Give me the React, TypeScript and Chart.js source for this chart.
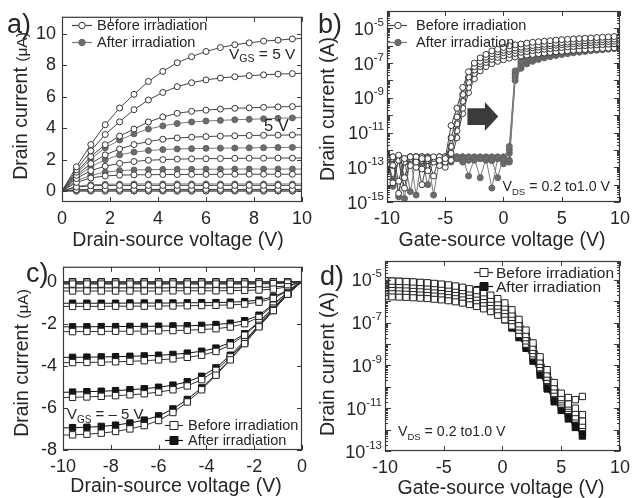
import React, { useEffect, useRef } from 'react';
import { Chart, registerables } from 'chart.js';
Chart.register(...registerables);

const FONT = '"Liberation Sans", Arial, Helvetica, sans-serif';
const INK = '#262626';
const FRAME = '#3a3a3a';

// ---------------- Panel a : output curves (before / after) ----------------
const aVds = [0, 0.6, 1.2, 1.8, 2.4, 3.0, 3.6, 4.2, 4.8, 5.4, 6.0, 6.6, 7.2, 7.8, 8.4, 9.0, 9.6, 10];
const aNoMarkerX = [0, 10];
const aBefore1 = [0, 1.54, 2.96, 4.22, 5.29, 6.16, 6.98, 7.62, 8.17, 8.56, 8.89, 9.14, 9.32, 9.44, 9.55, 9.61, 9.69, 9.72];
const aBefore2 = [0, 1.35, 2.56, 3.6, 4.41, 5.18, 5.8, 6.28, 6.65, 6.9, 7.08, 7.2, 7.28, 7.35, 7.4, 7.45, 7.48, 7.5];
const aBefore3 = [0, 1.2, 2.2, 2.95, 3.5, 3.95, 4.4, 4.72, 4.95, 5.08, 5.15, 5.22, 5.27, 5.3, 5.33, 5.36, 5.38, 5.4];
const aBefore4 = [0, 1.0, 1.75, 2.3, 2.68, 2.96, 3.15, 3.3, 3.38, 3.43, 3.47, 3.5, 3.52, 3.54, 3.55, 3.56, 3.57, 3.58];
const aBefore5 = [0, 0.8, 1.3, 1.58, 1.76, 1.88, 1.96, 2.0, 2.03, 2.05, 2.06, 2.07, 2.08, 2.09, 2.09, 2.1, 2.1, 2.1];
const aBefore6 = [0, 0.55, 0.83, 0.96, 1.01, 1.03, 1.04, 1.05, 1.05, 1.06, 1.06, 1.06, 1.07, 1.07, 1.07, 1.07, 1.07, 1.07];
const aBefore7 = [0, 0.25, 0.33, 0.35, 0.36, 0.36, 0.36, 0.36, 0.36, 0.36, 0.36, 0.36, 0.36, 0.36, 0.36, 0.36, 0.36, 0.36];
const aBefore8 = [0, 0.08, 0.1, 0.1, 0.1, 0.1, 0.1, 0.1, 0.1, 0.1, 0.1, 0.1, 0.1, 0.1, 0.1, 0.1, 0.1, 0.1];
const aBefore9 = [0, 0, 0, 0, 0, 0, 0, 0, 0, 0, 0, 0, 0, 0, 0, 0, 0, 0];
const aAfter1 = [0, 1.1, 2.05, 2.75, 3.25, 3.64, 3.95, 4.15, 4.3, 4.4, 4.46, 4.5, 4.54, 4.57, 4.6, 4.63, 4.66, 4.68];
const aAfter2 = [0, 0.9, 1.55, 2.0, 2.3, 2.48, 2.58, 2.64, 2.68, 2.7, 2.72, 2.73, 2.74, 2.75, 2.76, 2.77, 2.78, 2.78];
const aAfter3 = [0, 0.65, 1.0, 1.2, 1.3, 1.34, 1.36, 1.37, 1.38, 1.38, 1.39, 1.39, 1.4, 1.4, 1.4, 1.4, 1.4, 1.4];
const aAfter4 = [0, 0.3, 0.4, 0.43, 0.44, 0.45, 0.45, 0.45, 0.45, 0.45, 0.45, 0.45, 0.45, 0.45, 0.45, 0.45, 0.45, 0.45];
const aAfter5 = [0, 0.07, 0.09, 0.1, 0.1, 0.1, 0.1, 0.1, 0.1, 0.1, 0.1, 0.1, 0.1, 0.1, 0.1, 0.1, 0.1, 0.1];
const aAfter6 = [0, 0, 0, 0, 0, 0, 0, 0, 0, 0, 0, 0, 0, 0, 0, 0, 0, 0];
const aXTicks = [0, 2, 4, 6, 8, 10];
const aYTicks = [0, 2, 4, 6, 8, 10];

// ---------------- Panel b : transfer curves, log10 of drain current (A) ----------------
const bVgs = [-10, -9.5, -9, -8.5, -8, -7.5, -7, -6.5, -6, -5.5, -5, -4.5, -4, -3.5, -3, -2.5, -2, -1.5, -1, -0.5, 0,
  0.5, 1, 1.5, 2, 2.5, 3, 3.5, 4, 4.5, 5, 5.5, 6, 6.5, 7, 7.5, 8, 8.5, 9, 9.5, 10];
const bBefore1Exp = [-12.5, -12.9, -12.3, -13.6, -12.4, -12.7, -12.5, -13.2, -12.4, -12.6, -12.5, -10.6, -9.6, -8.4, -7.5, -7.0, -6.7, -6.5, -6.3, -6.2, -6.1,
  -6.0, -5.95, -5.9, -5.85, -5.8, -5.77, -5.74, -5.71, -5.68, -5.65, -5.63, -5.61, -5.59, -5.57, -5.55, -5.53, -5.51, -5.49, -5.47, -5.45];
const bBefore2Exp = [-12.6, -12.4, -13.8, -12.5, -12.9, -12.4, -12.6, -12.5, -13.5, -12.4, -12.7, -11.3, -10.1, -8.8, -7.8, -7.2, -6.9, -6.66, -6.46, -6.35, -6.26,
  -6.19, -6.13, -6.08, -6.03, -5.99, -5.95, -5.91, -5.88, -5.85, -5.82, -5.79, -5.76, -5.74, -5.71, -5.69, -5.67, -5.65, -5.63, -5.61, -5.59];
const bBefore3Exp = [-12.8, -12.5, -12.6, -14.2, -12.5, -12.4, -13.1, -12.6, -12.5, -12.9, -12.4, -11.8, -10.5, -9.2, -8.1, -7.4, -7.05, -6.8, -6.62, -6.5, -6.4,
  -6.33, -6.27, -6.21, -6.16, -6.12, -6.08, -6.04, -6.0, -5.97, -5.94, -5.91, -5.88, -5.86, -5.84, -5.82, -5.8, -5.78, -5.76, -5.74, -5.72];
const bBefore4Exp = [-12.5, -13.9, -12.5, -12.7, -12.4, -13.0, -12.4, -12.6, -12.7, -12.5, -13.0, -12.2, -10.9, -9.6, -8.4, -7.6, -7.2, -6.96, -6.79, -6.67, -6.58,
  -6.5, -6.44, -6.38, -6.33, -6.28, -6.24, -6.2, -6.16, -6.13, -6.1, -6.07, -6.04, -6.01, -5.99, -5.97, -5.95, -5.93, -5.91, -5.89, -5.87];
const bBefore5Exp = [-13.2, -12.5, -14.5, -12.6, -12.7, -12.4, -14.0, -12.5, -12.6, -12.4, -12.7, -12.6, -11.3, -9.9, -8.7, -7.9, -7.45, -7.2, -7.03, -6.9, -6.8,
  -6.72, -6.65, -6.59, -6.54, -6.5, -6.46, -6.42, -6.38, -6.35, -6.32, -6.29, -6.26, -6.24, -6.22, -6.2, -6.18, -6.16, -6.14, -6.12, -6.1];
const bAfter1Exp = [-12.4, -14.1, -12.5, -14.8, -12.4, -12.6, -12.4, -12.5, -14.6, -12.5, -12.4, -12.6, -12.5, -12.7, -12.4, -12.5, -13.6, -12.5, -12.6, -12.4, -12.5,
  -11.8, -7.45, -6.9, -6.65, -6.5, -6.4, -6.32, -6.25, -6.19, -6.14, -6.09, -6.04, -6.0, -5.96, -5.92, -5.89, -5.86, -5.83, -5.8, -5.77];
const bAfter2Exp = [-12.5, -12.4, -14.7, -12.5, -12.6, -12.4, -12.5, -14.0, -12.5, -12.4, -12.5, -12.7, -12.4, -12.5, -12.6, -12.4, -12.5, -12.6, -12.4, -12.5, -12.6,
  -12.0, -7.6, -7.0, -6.75, -6.6, -6.49, -6.41, -6.34, -6.28, -6.23, -6.18, -6.13, -6.09, -6.05, -6.01, -5.98, -5.95, -5.92, -5.89, -5.86];
const bAfter3Exp = [-12.7, -12.5, -12.4, -12.6, -14.4, -12.5, -12.6, -12.4, -12.5, -12.7, -12.6, -12.4, -12.5, -12.4, -13.5, -12.5, -12.4, -12.5, -12.6, -13.6, -12.4,
  -12.2, -7.7, -7.1, -6.85, -6.7, -6.59, -6.5, -6.43, -6.37, -6.31, -6.26, -6.21, -6.17, -6.13, -6.09, -6.06, -6.03, -6.0, -5.97, -5.94];
const bAfter4Exp = [-12.4, -13.7, -12.6, -12.5, -12.4, -14.6, -12.4, -12.5, -12.6, -12.5, -12.4, -12.5, -12.4, -12.6, -12.5, -12.5, -12.5, -12.4, -12.6, -12.5, -12.5,
  -12.6, -7.85, -7.2, -6.95, -6.8, -6.69, -6.6, -6.53, -6.47, -6.41, -6.36, -6.31, -6.27, -6.23, -6.19, -6.16, -6.13, -6.1, -6.07, -6.04];
const bAfter5Exp = [-12.6, -12.5, -12.5, -12.7, -12.5, -12.5, -12.8, -12.4, -12.5, -12.5, -12.8, -12.5, -12.5, -12.4, -12.5, -12.6, -12.5, -12.5, -14.2, -12.5, -12.8,
  -12.7, -8.0, -7.3, -7.05, -6.9, -6.79, -6.7, -6.63, -6.57, -6.51, -6.46, -6.41, -6.37, -6.33, -6.29, -6.26, -6.23, -6.2, -6.17, -6.14];
const bXTicks = [-10, -5, 0, 5, 10];
const bYLabelExp = [-15, -13, -11, -9, -7, -5];
// block arrow (gate-source voltage, log10 current) : tail start, head base, tip
const bArrowX = [-3.1, -1.6, -0.45];
const bArrowTailExp = [-9.6, -10.57];
const bArrowHeadExp = [-9.24, -10.91];

// ---------------- Panel c : p-type output curves ----------------
const cVds = [-10, -9.6, -9.0, -8.4, -7.8, -7.2, -6.6, -6.0, -5.4, -4.8, -4.2, -3.6, -3.0, -2.4, -1.8, -1.2, -0.6, 0];
const cNoMarkerX = [-10, 0];
const cBefore1 = [-7.29, -7.28, -7.25, -7.2, -7.12, -7.0, -6.84, -6.6, -6.22, -5.72, -5.14, -4.45, -3.72, -2.95, -2.15, -1.38, -0.6, 0];
const cBefore2 = [-5.51, -5.5, -5.48, -5.45, -5.42, -5.38, -5.33, -5.25, -5.14, -4.96, -4.66, -4.22, -3.58, -2.86, -2.08, -1.33, -0.58, 0];
const cBefore3 = [-3.85, -3.85, -3.84, -3.83, -3.81, -3.79, -3.76, -3.72, -3.67, -3.6, -3.5, -3.32, -3.02, -2.55, -1.95, -1.26, -0.56, 0];
const cBefore4 = [-2.38, -2.38, -2.37, -2.37, -2.36, -2.36, -2.35, -2.34, -2.33, -2.31, -2.28, -2.24, -2.16, -2.0, -1.7, -1.12, -0.52, 0];
const cBefore5 = [-1.18, -1.18, -1.18, -1.18, -1.17, -1.17, -1.17, -1.16, -1.16, -1.15, -1.14, -1.13, -1.11, -1.07, -0.98, -0.8, -0.45, 0];
const cBefore6 = [-0.45, -0.45, -0.45, -0.45, -0.45, -0.45, -0.45, -0.45, -0.44, -0.44, -0.44, -0.44, -0.43, -0.42, -0.4, -0.36, -0.25, 0];
const cBefore7 = [-0.12, -0.12, -0.12, -0.12, -0.12, -0.12, -0.12, -0.12, -0.12, -0.12, -0.12, -0.12, -0.12, -0.12, -0.11, -0.1, -0.07, 0];
const cBefore8 = [-0.03, -0.03, -0.03, -0.03, -0.03, -0.03, -0.03, -0.03, -0.03, -0.03, -0.03, -0.03, -0.03, -0.03, -0.03, -0.03, -0.02, 0];
const cAfter1 = [-6.95, -6.94, -6.92, -6.88, -6.82, -6.72, -6.58, -6.38, -6.05, -5.6, -5.05, -4.4, -3.68, -2.92, -2.13, -1.37, -0.6, 0];
const cAfter2 = [-5.26, -5.25, -5.23, -5.21, -5.18, -5.14, -5.09, -5.02, -4.92, -4.76, -4.5, -4.1, -3.5, -2.82, -2.06, -1.32, -0.58, 0];
const cAfter3 = [-3.6, -3.6, -3.59, -3.58, -3.57, -3.55, -3.53, -3.5, -3.46, -3.4, -3.31, -3.16, -2.9, -2.48, -1.91, -1.24, -0.56, 0];
const cAfter4 = [-2.15, -2.15, -2.15, -2.14, -2.14, -2.13, -2.13, -2.12, -2.11, -2.1, -2.08, -2.04, -1.98, -1.86, -1.6, -1.08, -0.5, 0];
const cAfter5 = [-1.03, -1.03, -1.03, -1.03, -1.03, -1.02, -1.02, -1.02, -1.02, -1.01, -1.0, -1.0, -0.98, -0.95, -0.88, -0.73, -0.42, 0];
const cAfter6 = [-0.3, -0.3, -0.3, -0.3, -0.3, -0.3, -0.3, -0.3, -0.3, -0.3, -0.3, -0.3, -0.3, -0.29, -0.28, -0.26, -0.2, 0];
const cAfter7 = [-0.08, -0.08, -0.08, -0.08, -0.08, -0.08, -0.08, -0.08, -0.08, -0.08, -0.08, -0.08, -0.08, -0.08, -0.08, -0.07, -0.05, 0];
const cAfter8 = [-0.01, -0.01, -0.01, -0.01, -0.01, -0.01, -0.01, -0.01, -0.01, -0.01, -0.01, -0.01, -0.01, -0.01, -0.01, -0.01, -0.01, 0];
const cXTicks = [-10, -8, -6, -4, -2, 0];
const cYTicks = [-8, -6, -4, -2, 0];

// ---------------- Panel d : p-type transfer curves, log10 of drain current (A) ----------------
const dVgs = [-10, -9.4, -8.8, -8.2, -7.6, -7.0, -6.4, -5.8, -5.2, -4.6, -4.0, -3.4, -2.8, -2.2, -1.6, -1.0, -0.4,
  0.2, 0.8, 1.4, 2.0, 2.6, 3.2, 3.8, 4.4, 5.0, 5.6, 6.2, 6.8];
const dBefore1Exp = [-5.05, -5.06, -5.07, -5.08, -5.1, -5.12, -5.14, -5.17, -5.2, -5.24, -5.29, -5.35, -5.42, -5.5, -5.6, -5.72, -5.88,
  -6.08, -6.4, -6.85, -7.35, -7.95, -8.6, -9.2, -9.8, -10.3, -10.5, -10.6, -10.45];
const dBefore2Exp = [-5.2, -5.21, -5.22, -5.23, -5.25, -5.27, -5.29, -5.32, -5.35, -5.39, -5.44, -5.5, -5.57, -5.66, -5.77, -5.9, -6.06,
  -6.27, -6.6, -7.05, -7.55, -8.15, -8.8, -9.4, -10.0, -10.5, -10.8, -11.0, -11.3];
const dBefore3Exp = [-5.35, -5.36, -5.37, -5.38, -5.4, -5.42, -5.44, -5.47, -5.5, -5.54, -5.59, -5.65, -5.72, -5.81, -5.92, -6.05, -6.22,
  -6.43, -6.75, -7.2, -7.7, -8.3, -8.95, -9.55, -10.15, -10.6, -10.9, -11.2, -11.6];
const dBefore4Exp = [-5.5, -5.51, -5.52, -5.53, -5.55, -5.57, -5.59, -5.62, -5.65, -5.69, -5.74, -5.8, -5.88, -5.97, -6.08, -6.22, -6.39,
  -6.6, -6.9, -7.35, -7.85, -8.45, -9.1, -9.7, -10.3, -10.7, -11.0, -11.4, -11.8];
const dBefore5Exp = [-5.78, -5.79, -5.8, -5.81, -5.83, -5.85, -5.87, -5.9, -5.93, -5.97, -6.02, -6.08, -6.15, -6.24, -6.35, -6.48, -6.65,
  -6.86, -7.15, -7.55, -8.0, -8.55, -9.15, -9.75, -10.35, -10.8, -11.1, -11.5, -11.9];
const dAfter1Exp = [-5.05, -5.06, -5.07, -5.09, -5.11, -5.13, -5.16, -5.19, -5.23, -5.28, -5.34, -5.41, -5.5, -5.6, -5.72, -5.87, -6.05,
  -6.3, -6.65, -7.1, -7.6, -8.2, -8.85, -9.5, -10.1, -10.55, -10.9, -11.2, -11.5];
const dAfter2Exp = [-5.13, -5.14, -5.15, -5.17, -5.19, -5.21, -5.24, -5.27, -5.31, -5.36, -5.42, -5.5, -5.59, -5.7, -5.83, -5.98, -6.17,
  -6.42, -6.78, -7.25, -7.75, -8.35, -9.0, -9.65, -10.25, -10.7, -11.0, -11.4, -11.7];
const dAfter3Exp = [-5.22, -5.23, -5.24, -5.26, -5.28, -5.3, -5.33, -5.36, -5.4, -5.45, -5.51, -5.59, -5.68, -5.79, -5.92, -6.08, -6.28,
  -6.55, -6.92, -7.4, -7.9, -8.5, -9.15, -9.8, -10.4, -10.8, -11.2, -11.6, -12.0];
const dAfter4Exp = [-5.32, -5.33, -5.34, -5.36, -5.38, -5.4, -5.43, -5.46, -5.5, -5.55, -5.61, -5.69, -5.78, -5.9, -6.04, -6.21, -6.42,
  -6.7, -7.08, -7.55, -8.05, -8.65, -9.3, -9.95, -10.55, -10.95, -11.3, -11.7, -12.1];
const dAfter5Exp = [-5.42, -5.43, -5.44, -5.46, -5.48, -5.5, -5.53, -5.56, -5.6, -5.66, -5.73, -5.81, -5.91, -6.03, -6.18, -6.36, -6.58,
  -6.87, -7.25, -7.7, -8.2, -8.8, -9.45, -10.1, -10.7, -11.1, -11.5, -11.9, -12.3];
const dXTicks = [-10, -5, 0, 5, 10];
const dYLabelExp = [-13, -11, -9, -7, -5];

// ---------------- helpers ----------------
type Part = { t: string; size?: number; dy?: number };
type TextItem = { parts: Part[]; x: number; y: number; size: number; align?: 'left' | 'center' | 'right'; rotate?: boolean };
type LegendRow = { label: string; style: 'circle' | 'rect'; fill: string; stroke: string; line: string };
type LegendSpec = { rows: LegendRow[]; x1: number; x2: number; mx: number; tx: number; ys: number[]; size: number; r: number };

function drawRich(ctx: CanvasRenderingContext2D, item: TextItem) {
  const { parts, x, y, size, align = 'left', rotate = false } = item;
  ctx.save();
  ctx.fillStyle = INK;
  ctx.textAlign = 'left';
  ctx.textBaseline = 'alphabetic';
  const widths = parts.map((p) => {
    ctx.font = `${p.size ?? size}px ${FONT}`;
    return ctx.measureText(p.t).width;
  });
  const total = widths.reduce((a, b) => a + b, 0);
  ctx.translate(x, y);
  if (rotate) ctx.rotate(-Math.PI / 2);
  let cx = align === 'center' ? -total / 2 : align === 'right' ? -total : 0;
  const base = size * 0.36;
  parts.forEach((p, i) => {
    ctx.font = `${p.size ?? size}px ${FONT}`;
    ctx.fillText(p.t, cx, base + (p.dy ?? 0));
    cx += widths[i];
  });
  ctx.restore();
}

function drawMarker(ctx: CanvasRenderingContext2D, style: string, x: number, y: number, r: number, fill: string, stroke: string) {
  ctx.beginPath();
  if (style === 'circle') ctx.arc(x, y, r, 0, Math.PI * 2);
  else ctx.rect(x - r, y - r, 2 * r, 2 * r);
  ctx.fillStyle = fill;
  ctx.fill();
  ctx.strokeStyle = stroke;
  ctx.lineWidth = 1;
  ctx.stroke();
}

function drawLegend(ctx: CanvasRenderingContext2D, lg: LegendSpec) {
  ctx.save();
  lg.rows.forEach((row, i) => {
    const y = lg.ys[i];
    ctx.beginPath();
    ctx.moveTo(lg.x1, y + 0.5);
    ctx.lineTo(lg.x2, y + 0.5);
    ctx.strokeStyle = row.line;
    ctx.lineWidth = 1.2;
    ctx.stroke();
    drawMarker(ctx, row.style, lg.mx, y + 0.5, lg.r, row.fill, row.stroke);
    drawRich(ctx, { parts: [{ t: row.label }], x: lg.tx, y, size: lg.size });
  });
  ctx.restore();
}

type PanelSpec = {
  left: number; top: number; w: number; h: number;
  area: { left: number; top: number; right: number; bottom: number };
  xMin: number; xMax: number; yMin: number; yMax: number; yLog: boolean;
  xTicks: number[]; yTicks?: number[]; yLabelExp?: number[];
  datasets: any[];
  texts: TextItem[];
  legend: LegendSpec;
  arrow?: boolean;
};

function decorPlugin(spec: PanelSpec) {
  return {
    id: 'decor',
    afterDatasetsDraw(chart: any) {
      const { ctx, chartArea } = chart;
      const { left, right, top, bottom } = chartArea;
      const xs = chart.scales.x;
      const ys = chart.scales.y;
      ctx.save();
      // arrow
      if (spec.arrow) {
        const X = bArrowX.map((v) => xs.getPixelForValue(v));
        const tT = ys.getPixelForValue(10 ** bArrowTailExp[0]);
        const tB = ys.getPixelForValue(10 ** bArrowTailExp[1]);
        const hT = ys.getPixelForValue(10 ** bArrowHeadExp[0]);
        const hB = ys.getPixelForValue(10 ** bArrowHeadExp[1]);
        const mid = (hT + hB) / 2;
        ctx.beginPath();
        ctx.moveTo(X[0], tT);
        ctx.lineTo(X[1], tT);
        ctx.lineTo(X[1], hT);
        ctx.lineTo(X[2], mid);
        ctx.lineTo(X[1], hB);
        ctx.lineTo(X[1], tB);
        ctx.lineTo(X[0], tB);
        ctx.closePath();
        ctx.fillStyle = '#3b3b3b';
        ctx.fill();
      }
      // inward ticks
      ctx.strokeStyle = FRAME;
      ctx.lineWidth = 1;
      ctx.beginPath();
      const MAJ = 5;
      const MIN = 3;
      spec.xTicks.forEach((v) => {
        const px = Math.round(xs.getPixelForValue(v)) + 0.5;
        ctx.moveTo(px, bottom);
        ctx.lineTo(px, bottom - MAJ);
        ctx.moveTo(px, top);
        ctx.lineTo(px, top + MAJ);
      });
      if (spec.yLog) {
        const e0 = Math.floor(Math.log10(spec.yMin));
        const e1 = Math.ceil(Math.log10(spec.yMax));
        for (let e = e0; e <= e1; e++) {
          for (let m = 1; m <= 9; m++) {
            const v = m * 10 ** e;
            if (v < spec.yMin * 0.999 || v > spec.yMax * 1.001) continue;
            const py = Math.round(ys.getPixelForValue(v)) + 0.5;
            const L = m === 1 ? MAJ + 1 : MIN;
            ctx.moveTo(left, py);
            ctx.lineTo(left + L, py);
            ctx.moveTo(right, py);
            ctx.lineTo(right - L, py);
          }
        }
      } else {
        (spec.yTicks || []).forEach((v) => {
          const py = Math.round(ys.getPixelForValue(v)) + 0.5;
          ctx.moveTo(left, py);
          ctx.lineTo(left + MAJ, py);
          ctx.moveTo(right, py);
          ctx.lineTo(right - MAJ, py);
        });
      }
      ctx.stroke();
      // frame
      ctx.strokeStyle = FRAME;
      ctx.lineWidth = 1.2;
      ctx.strokeRect(left + 0.5, top + 0.5, right - left - 1, bottom - top - 1);
      // log tick labels 10^n
      if (spec.yLog && spec.yLabelExp) {
        spec.yLabelExp.forEach((e) => {
          const py = ys.getPixelForValue(10 ** e);
          const rightEdge = left - 3;
          ctx.font = `11.5px ${FONT}`;
          const w2 = ctx.measureText(String(e)).width;
          ctx.font = `18px ${FONT}`;
          const w1 = ctx.measureText('10').width;
          ctx.fillStyle = INK;
          ctx.textAlign = 'left';
          ctx.textBaseline = 'alphabetic';
          ctx.fillText('10', rightEdge - w2 - w1, py + 6.5);
          ctx.font = `11.5px ${FONT}`;
          ctx.fillText(String(e), rightEdge - w2, py - 2.5);
        });
      }
      ctx.restore();
    },
    afterDraw(chart: any) {
      const ctx = chart.ctx;
      spec.texts.forEach((t) => drawRich(ctx, t));
      drawLegend(ctx, spec.legend);
    },
  };
}

function lineSet(xs: number[], ys: number[], o: { line: string; fill: string; stroke: string; style: string; r: number; noMarkerX?: number[] }) {
  const skip = o.noMarkerX || [];
  return {
    data: xs.map((x, i) => ({ x, y: ys[i] })),
    borderColor: o.line,
    borderWidth: 1,
    tension: 0,
    fill: false,
    pointStyle: o.style,
    pointRadius: (c: any) => (c.raw && skip.includes(c.raw.x) ? 0 : o.r),
    pointBackgroundColor: o.fill,
    pointBorderColor: o.stroke,
    pointBorderWidth: 1,
  };
}

function logSet(xs: number[], exps: number[], o: any) {
  // exponents -> amperes
  return lineSet(xs, exps.map((e) => 10 ** e), o);
}

function buildConfig(spec: PanelSpec) {
  const tickFont = { family: FONT, size: 18 };
  return {
    type: 'line',
    data: { datasets: spec.datasets },
    options: {
      animation: false,
      responsive: false,
      devicePixelRatio: 1,
      events: [],
      layout: { padding: { left: 0, top: spec.area.top, right: spec.w - spec.area.right, bottom: 0 } },
      plugins: { legend: { display: false }, tooltip: { enabled: false } },
      scales: {
        x: {
          type: 'linear',
          min: spec.xMin,
          max: spec.xMax,
          grid: { display: false, drawTicks: false },
          border: { display: false },
          ticks: { font: tickFont, color: INK, padding: 6, maxRotation: 0, autoSkip: false, callback: (v: any) => String(v) },
          afterBuildTicks: (s: any) => { s.ticks = spec.xTicks.map((v) => ({ value: v })); },
          afterFit: (s: any) => { s.height = spec.h - spec.area.bottom; },
        },
        y: {
          type: spec.yLog ? 'logarithmic' : 'linear',
          min: spec.yMin,
          max: spec.yMax,
          grid: { display: false, drawTicks: false },
          border: { display: false },
          ticks: { display: !spec.yLog, font: tickFont, color: INK, padding: 6, autoSkip: false, callback: (v: any) => String(v) },
          afterBuildTicks: (s: any) => { if (!spec.yLog) s.ticks = (spec.yTicks || []).map((v) => ({ value: v })); },
          afterFit: (s: any) => { s.width = spec.area.left; },
        },
      },
    },
    plugins: [decorPlugin(spec)],
  };
}

function Panel({ spec }: { spec: PanelSpec }) {
  const ref = useRef<HTMLCanvasElement | null>(null);
  useEffect(() => {
    if (!ref.current) return;
    const chart = new Chart(ref.current, buildConfig(spec) as any);
    return () => chart.destroy();
  }, []);
  return (
    <canvas ref={ref} width={spec.w} height={spec.h}
      style={{ position: 'absolute', left: spec.left, top: spec.top, width: spec.w, height: spec.h }} />
  );
}

// ---------------- styles ----------------
const openCircle = { line: '#454545', fill: '#ffffff', stroke: '#333333', style: 'circle', r: 3 };
const greyCircle = { line: '#7a7a7a', fill: '#6c6c6c', stroke: '#626262', style: 'circle', r: 3 };
const openSquare = { line: '#333333', fill: '#ffffff', stroke: '#222222', style: 'rect', r: 4.5 };
const blackSquare = { line: '#111111', fill: '#151515', stroke: '#111111', style: 'rect', r: 4.5 };

const legendRowsCircle: LegendRow[] = [
  { label: 'Before irradiation', style: 'circle', fill: '#ffffff', stroke: '#333333', line: '#454545' },
  { label: 'After irradiation', style: 'circle', fill: '#6c6c6c', stroke: '#626262', line: '#7a7a7a' },
];
const legendRowsSquare: LegendRow[] = [
  { label: 'Before irradiation', style: 'rect', fill: '#ffffff', stroke: '#222222', line: '#333333' },
  { label: 'After irradiation', style: 'rect', fill: '#151515', stroke: '#111111', line: '#111111' },
];

const yTitleA: Part[] = [{ t: 'Drain current ' }, { t: '(μA)', size: 15.5 }];
const yTitleLog: Part[] = [{ t: 'Drain current (A)' }];

const panelA: PanelSpec = {
  left: 0, top: 0, w: 318, h: 250,
  area: { left: 62, top: 11, right: 303, bottom: 202 },
  xMin: 0, xMax: 10, yMin: -0.7, yMax: 11.1, yLog: false,
  xTicks: aXTicks, yTicks: aYTicks,
  datasets: [
    ...[aBefore1, aBefore2, aBefore3, aBefore4, aBefore5, aBefore6, aBefore7, aBefore8, aBefore9].map((ys) => lineSet(aVds, ys, { ...openCircle, noMarkerX: aNoMarkerX })),
    ...[aAfter1, aAfter2, aAfter3, aAfter4, aAfter5, aAfter6].map((ys) => lineSet(aVds, ys, { ...greyCircle, noMarkerX: aNoMarkerX })),
  ],
  texts: [
    { parts: [{ t: 'a)' }], x: 7, y: 23, size: 27 },
    { parts: yTitleA, x: 20, y: 106, size: 19.5, align: 'center', rotate: true },
    { parts: [{ t: 'Drain-source voltage (V)' }], x: 178, y: 239, size: 19.5, align: 'center' },
    { parts: [{ t: 'V' }, { t: 'GS', size: 10.5, dy: 3.5 }, { t: ' = 5 V' }], x: 229, y: 53, size: 15.5 },
    { parts: [{ t: '5 V' }], x: 264, y: 125, size: 16.5 },
  ],
  legend: { rows: legendRowsCircle, x1: 72, x2: 92, mx: 82, tx: 97, ys: [25, 42], size: 14.5, r: 3.2 },
};

const panelB: PanelSpec = {
  left: 318, top: 0, w: 318, h: 250,
  area: { left: 69, top: 11, right: 307, bottom: 202 },
  xMin: -10, xMax: 10, yMin: 1e-15, yMax: 1e-4, yLog: true,
  xTicks: bXTicks, yLabelExp: bYLabelExp,
  datasets: [
    ...[bBefore1Exp, bBefore2Exp, bBefore3Exp, bBefore4Exp, bBefore5Exp].map((e) => logSet(bVgs, e, openCircle)),
    ...[bAfter1Exp, bAfter2Exp, bAfter3Exp, bAfter4Exp, bAfter5Exp].map((e) => logSet(bVgs, e, greyCircle)),
  ],
  texts: [
    { parts: [{ t: 'b)' }], x: 0, y: 23, size: 27 },
    { parts: yTitleLog, x: 9, y: 109, size: 19.5, align: 'center', rotate: true },
    { parts: [{ t: 'Gate-source voltage (V)' }], x: 184, y: 239, size: 19.5, align: 'center' },
    { parts: [{ t: 'V' }, { t: 'DS', size: 9.5, dy: 3.5 }, { t: ' = 0.2 to1.0 V' }], x: 292, y: 186, size: 14.2, align: 'right' },
  ],
  legend: { rows: legendRowsCircle, x1: 69, x2: 89, mx: 80, tx: 98, ys: [25, 42], size: 14.5, r: 3.2 },
  arrow: true,
};

const panelC: PanelSpec = {
  left: 0, top: 250, w: 318, h: 248,
  area: { left: 63, top: 11, right: 302, bottom: 200 },
  xMin: -10, xMax: 0, yMin: -8, yMax: 0.7, yLog: false,
  xTicks: cXTicks, yTicks: cYTicks,
  datasets: [
    ...[cBefore1, cBefore2, cBefore3, cBefore4, cBefore5, cBefore6, cBefore7, cBefore8].map((ys) => lineSet(cVds, ys, { ...openSquare, noMarkerX: cNoMarkerX })),
    ...[cAfter1, cAfter2, cAfter3, cAfter4, cAfter5, cAfter6, cAfter7, cAfter8].map((ys) => lineSet(cVds, ys, { ...blackSquare, noMarkerX: cNoMarkerX })),
  ],
  texts: [
    { parts: [{ t: 'c)' }], x: 26, y: 22, size: 27 },
    { parts: yTitleA, x: 21, y: 113, size: 19.5, align: 'center', rotate: true },
    { parts: [{ t: 'Drain-source voltage (V)' }], x: 176, y: 235, size: 19.5, align: 'center' },
    { parts: [{ t: 'V' }, { t: 'GS', size: 10, dy: 3.5 }, { t: ' = – 5 V' }], x: 67, y: 164, size: 15 },
  ],
  legend: { rows: legendRowsSquare, x1: 165, x2: 183, mx: 174, tx: 188, ys: [175, 190], size: 14.5, r: 4 },
};

const panelD: PanelSpec = {
  left: 318, top: 250, w: 318, h: 248,
  area: { left: 67, top: 11, right: 306, bottom: 201 },
  xMin: -10, xMax: 10, yMin: 1e-13, yMax: 7.6e-5, yLog: true,
  xTicks: dXTicks, yLabelExp: dYLabelExp,
  datasets: [
    ...[dBefore1Exp, dBefore2Exp, dBefore3Exp, dBefore4Exp, dBefore5Exp].map((e) => logSet(dVgs, e, openSquare)),
    ...[dAfter1Exp, dAfter2Exp, dAfter3Exp, dAfter4Exp, dAfter5Exp].map((e) => logSet(dVgs, e, blackSquare)),
  ],
  texts: [
    { parts: [{ t: 'd)' }], x: 2, y: 25, size: 27 },
    { parts: yTitleLog, x: 9, y: 114, size: 19.5, align: 'center', rotate: true },
    { parts: [{ t: 'Gate-source voltage (V)' }], x: 183, y: 237, size: 19.5, align: 'center' },
    { parts: [{ t: 'V' }, { t: 'DS', size: 9.5, dy: 3.5 }, { t: ' = 0.2 to1.0 V' }], x: 80, y: 181, size: 14.2 },
  ],
  legend: { rows: legendRowsSquare, x1: 156, x2: 175, mx: 166, tx: 178, ys: [22, 36], size: 15.5, r: 4 },
};

export default function App() {
  return (
    <div style={{ position: 'absolute', left: 0, top: 0, width: 636, height: 498, background: '#ffffff', overflow: 'hidden' }}>
      <Panel spec={panelA} />
      <Panel spec={panelB} />
      <Panel spec={panelC} />
      <Panel spec={panelD} />
    </div>
  );
}
